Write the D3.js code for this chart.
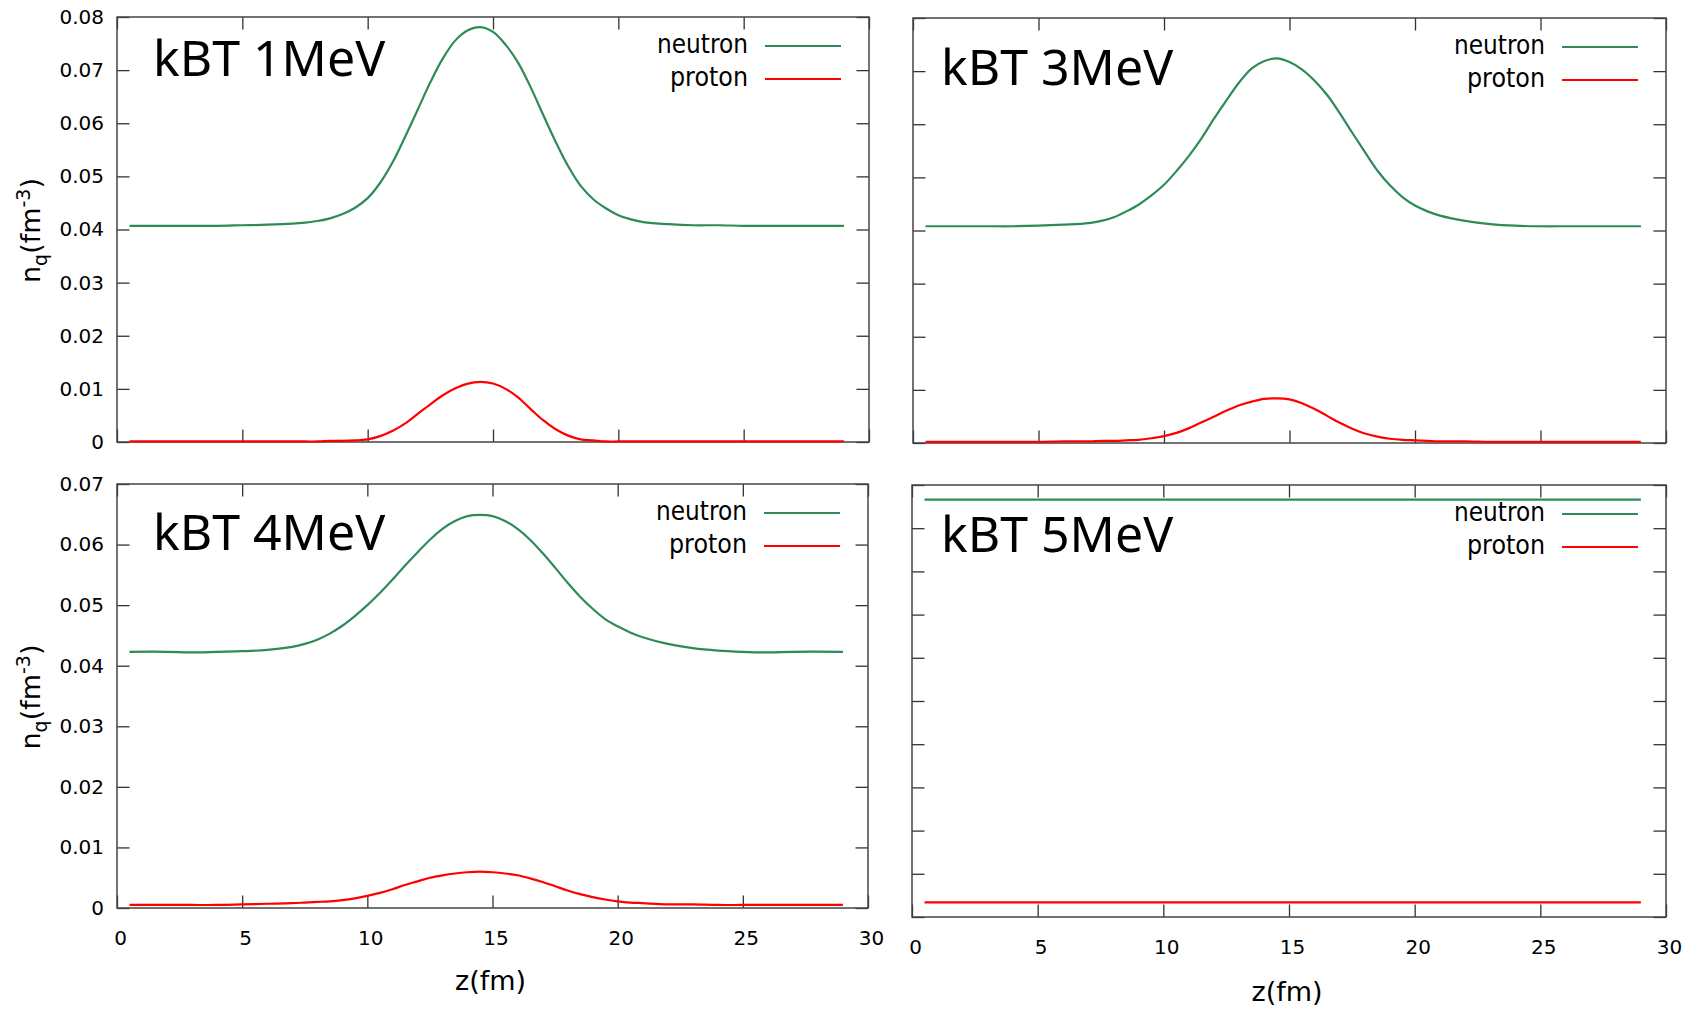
<!DOCTYPE html>
<html><head><meta charset="utf-8">
<script src="https://cdn.jsdelivr.net/npm/d3@7"></script>
<style>body{margin:0;background:#fff}svg{display:block}</style>
</head><body>
<svg id="c" width="1687" height="1009"></svg>
<script>
// ---------------- data ----------------
const zGrid = [0.5, 2, 3, 4, 5, 6, 7, 7.5, 8, 8.5, 9, 9.5, 10, 10.5, 11, 11.5, 12, 12.5, 13, 13.5, 14, 14.5, 15, 15.5, 16, 16.5, 17, 17.5, 18, 18.5, 19, 19.5, 20, 20.5, 21, 22, 23, 24, 25, 26, 27, 29];

const neutron1MeV = [.0407,.0407,.0407,.0407,.0408,.0409,.0411,.0413,.0416,.0421,.0429,.0441,.0459,.0488,.0527,.0575,.0626,.0677,.0722,.0756,.0775,.0781,.0772,.0748,.0714,.0668,.0616,.0565,.0519,.0482,.0457,.0440,.0427,.0419,.0414,.0410,.0408,.0408,.0407,.0407,.0407,.0407];
const proton1MeV  = [.0001,.0001,.0001,.0001,.0001,.0001,.0001,.0001,.0001,.0002,.0002,.0003,.0005,.0011,.0021,.0035,.0053,.0071,.0088,.0101,.0110,.0113,.0110,.0100,.0084,.0062,.0041,.0024,.0012,.0005,.0003,.0001,.0001,.0001,.0001,.0001,.0001,.0001,.0001,.0001,.0001,.0001];

const neutron3MeV = [.0408,.0408,.0408,.0408,.0409,.0411,.0414,.0418,.0425,.0436,.0449,.0466,.0486,.0512,.0541,.0574,.0611,.0646,.0679,.0705,.0719,.0724,.0717,.0703,.0682,.0655,.0621,.0584,.0548,.0513,.0485,.0463,.0447,.0436,.0428,.0418,.0412,.0409,.0408,.0408,.0408,.0408];
const proton3MeV  = [.0002,.0002,.0002,.0002,.0002,.0003,.0003,.0004,.0004,.0005,.0006,.0009,.0013,.0019,.0028,.0039,.0050,.0061,.0071,.0078,.0083,.0084,.0082,.0075,.0064,.0051,.0038,.0027,.0018,.0012,.0008,.0006,.0005,.0004,.0003,.0003,.0002,.0002,.0002,.0002,.0002,.0002];

const neutron4MeV = [.0423,.0423,.0422,.0423,.0424,.0426,.0431,.0436,.0443,.0453,.0466,.0482,.0500,.0520,.0542,.0565,.0587,.0608,.0626,.0639,.0647,.0649,.0647,.0639,.0626,.0608,.0586,.0562,.0537,.0514,.0494,.0477,.0465,.0455,.0447,.0436,.0429,.0425,.0423,.0422,.0423,.0423];
const proton4MeV  = [.0005,.0005,.0005,.0005,.0006,.0007,.0008,.0009,.0010,.0011,.0013,.0016,.0020,.0025,.0031,.0038,.0044,.0050,.0054,.0057,.0059,.0060,.0059,.0057,.0054,.0049,.0043,.0036,.0029,.0023,.0018,.0014,.0011,.0009,.0008,.0006,.0006,.0005,.0005,.0005,.0005,.0005];

const zFlat = [0.5, 29];
const neutron5MeV = [0.0483, 0.0483];
const proton5MeV  = [0.0017, 0.0017];

const panelTitles = ["kBT 1MeV", "kBT 3MeV", "kBT 4MeV", "kBT 5MeV"];
const seriesNames = ["neutron", "proton"];
const xTickValues = [0, 5, 10, 15, 20, 25, 30];
const xTickLabels = ["0", "5", "10", "15", "20", "25", "30"];
const yTicksA = [0, 0.01, 0.02, 0.03, 0.04, 0.05, 0.06, 0.07, 0.08];
const yTickLabelsA = ["0", "0.01", "0.02", "0.03", "0.04", "0.05", "0.06", "0.07", "0.08"];
const yTicksB = [0, 0.01, 0.02, 0.03, 0.04, 0.05, 0.06, 0.07];
const yTickLabelsB = ["0", "0.01", "0.02", "0.03", "0.04", "0.05", "0.06", "0.07"];
const yTicksC = [0, 0.005, 0.01, 0.015, 0.02, 0.025, 0.03, 0.035, 0.04, 0.045, 0.05];
const xAxisTitle = "z(fm)";

// ---------------- layout ----------------
const colors = ["#2e8b57", "#ff0000"];
const panels = [
  {x0:117, x1:869, y0:17, y1:442, ymax:0.08, yt:yTicksA, yl:yTickLabelsA, xl:false, tdx:36, tdy:59,
   z:zGrid, series:[neutron1MeV, proton1MeV], ylab:true},
  {x0:913, x1:1666, y0:18, y1:443, ymax:0.08, yt:yTicksA, yl:null, xl:false, tdx:28, tdy:67,
   z:zGrid, series:[neutron3MeV, proton3MeV], ylab:false},
  {x0:117, x1:868, y0:484, y1:908, ymax:0.07, yt:yTicksB, yl:yTickLabelsB, xl:true, tdx:36, tdy:66,
   z:zGrid, series:[neutron4MeV, proton4MeV], ylab:true, xtb:82},
  {x0:912, x1:1666, y0:485, y1:917, ymax:0.05, yt:yTicksC, yl:null, xl:true, tdx:29, tdy:67,
   z:zFlat, series:[neutron5MeV, proton5MeV], ylab:false, xtb:84}
];

const svg = d3.select("#c");
const TICK = 12.5;
const tickColor = "#333";

function styleAxis(sel){
  sel.select(".domain").remove();
  sel.selectAll(".tick line").attr("stroke", tickColor).attr("stroke-width", 1.3);
  sel.attr("font-family", null).attr("font-size", null);
  sel.selectAll(".tick text").attr("fill", "#000")
     .style("font-family", "'DejaVu Sans', Verdana, sans-serif").style("font-size", "20px");
}

panels.forEach((p, i) => {
  const x = d3.scaleLinear().domain([0, 30]).range([p.x0, p.x1]);
  const y = d3.scaleLinear().domain([0, p.ymax]).range([p.y1, p.y0]);
  const g = svg.append("g");

  g.append("g").attr("transform", `translate(${p.x0},0)`)
    .call(d3.axisLeft(y).tickValues(p.yt).tickSizeInner(-TICK).tickSizeOuter(0).tickPadding(13)
      .tickFormat((d, k) => p.yl ? p.yl[k] : ""))
    .call(styleAxis);
  g.append("g").attr("transform", `translate(${p.x1},0)`)
    .call(d3.axisRight(y).tickValues(p.yt).tickSizeInner(-TICK).tickSizeOuter(0).tickFormat(""))
    .call(styleAxis);
  g.append("g").attr("transform", `translate(0,${p.y0})`)
    .call(d3.axisTop(x).tickValues(xTickValues).tickSizeInner(-TICK).tickSizeOuter(0).tickFormat(""))
    .call(styleAxis);
  const bx = g.append("g").attr("transform", `translate(0,${p.y1})`)
    .call(d3.axisBottom(x).tickValues(xTickValues).tickSizeInner(-TICK).tickSizeOuter(0).tickPadding(23)
      .tickFormat((d, k) => p.xl ? xTickLabels[k] : ""))
    .call(styleAxis);
  bx.selectAll(".tick text").attr("dx", 3);

  g.append("rect").attr("x", p.x0).attr("y", p.y0)
    .attr("width", p.x1 - p.x0).attr("height", p.y1 - p.y0)
    .attr("fill", "none").attr("stroke", "#444").attr("stroke-width", 1.5);

  const line = d3.line().x(d => x(d[0])).y(d => y(d[1])).curve(d3.curveCatmullRom.alpha(0.5));
  p.series.forEach((vals, s) => {
    const pts = p.z.map((z, k) => [z, vals[k]]);
    g.append("path").datum(pts).attr("d", line)
      .attr("fill", "none").attr("stroke", colors[s]).attr("stroke-width", 2.2)
      .attr("stroke-linejoin", "round");
  });

  g.append("text").attr("x", p.x0 + p.tdx).attr("y", p.y0 + p.tdy)
    .style("font-family", "'Noto Sans', 'Open Sans', sans-serif").style("font-size", "50px")
    .attr("fill", "#000").text(panelTitles[i]);

  const legW = [91, 78];
  seriesNames.forEach((name, s) => {
    g.append("text").attr("x", p.x1 - 121).attr("y", p.y0 + 36 + s * 33)
      .attr("text-anchor", "end")
      .attr("textLength", legW[s]).attr("lengthAdjust", "spacingAndGlyphs")
      .style("font-family", "'DejaVu Sans', Verdana, sans-serif").style("font-size", "27px")
      .attr("fill", "#000").text(name);
    g.append("line").attr("x1", p.x1 - 104).attr("x2", p.x1 - 28)
      .attr("y1", p.y0 + 29 + s * 33).attr("y2", p.y0 + 29 + s * 33)
      .attr("stroke", colors[s]).attr("stroke-width", 2.2);
  });

  if (p.xl) {
    g.append("text").attr("x", (p.x0 + p.x1) / 2 - 2).attr("y", p.y1 + p.xtb)
      .attr("text-anchor", "middle")
      .style("font-family", "'DejaVu Sans', Verdana, sans-serif").style("font-size", "27px")
      .attr("fill", "#000").text(xAxisTitle);
  }
  if (p.ylab) {
    const cy = (p.y0 + p.y1) / 2 + 1;
    const t = g.append("text").attr("transform", `translate(40,${cy}) rotate(-90)`)
      .attr("text-anchor", "middle")
      .style("font-family", "'DejaVu Sans', Verdana, sans-serif").style("font-size", "27px")
      .attr("fill", "#000");
    t.append("tspan").text("n");
    t.append("tspan").attr("dy", 7).style("font-size", "19px").text("q");
    t.append("tspan").attr("dy", -7).text("(fm");
    t.append("tspan").attr("dy", -10).style("font-size", "19px").text("-3");
    t.append("tspan").attr("dy", 10).text(")");
  }
});
</script>
</body></html>
